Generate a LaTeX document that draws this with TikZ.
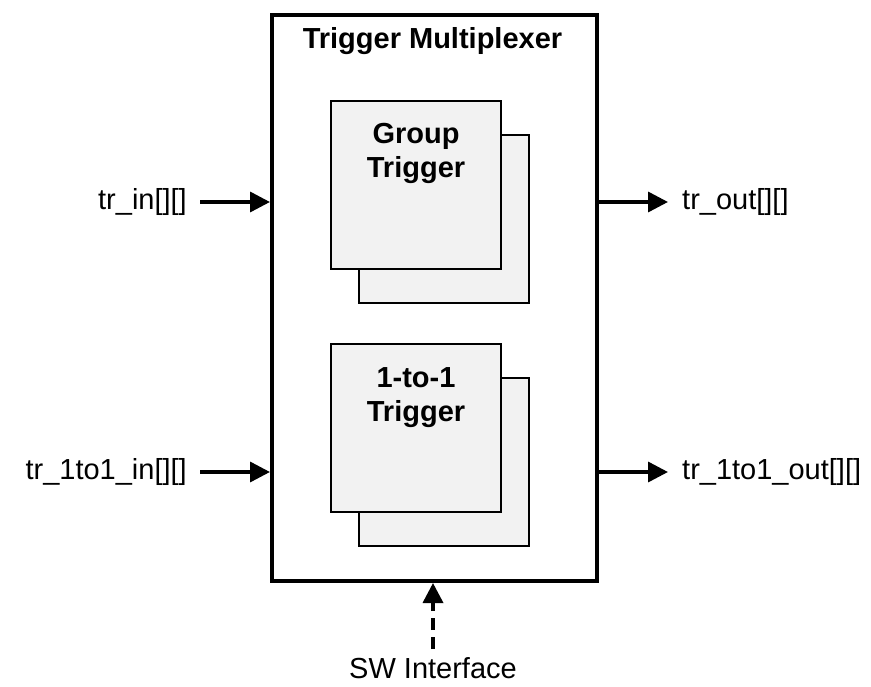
\documentclass[tikz,border=0pt]{standalone}
\usepackage{fontspec}
\setmainfont{Liberation Sans}
\usetikzlibrary{arrows.meta,positioning}
\definecolor{boxgray}{RGB}{242,242,242}

\begin{document}
\begin{tikzpicture}[x=1pt,y=-1pt,
	blk/.style={draw,line width=2pt,fill=boxgray,minimum width=170pt,minimum height=168pt,anchor=north west,inner sep=0pt},
	sig/.style={line width=3.5pt,-{Triangle[length=20pt,width=20pt]}},
	lbl/.style={font=\fontsize{29}{34}\selectfont,inner sep=0pt},
	bld/.style={font=\fontsize{29}{34}\selectfont\bfseries,inner sep=0pt,align=center}]
	\useasboundingbox (0,0) rectangle (871,687);

	% multiplexer frame
	\node[draw,line width=4pt,minimum width=325pt,minimum height=566pt,anchor=north west,inner sep=0pt] (mux) at (270,13) {};
	\node[bld,anchor=base] (muxtitle) at (432.5,49) {Trigger Multiplexer};

	% stacked trigger blocks
	\node[blk] (grpback) at (358,134) {};
	\node[blk] (grp) at (330,100) {};
	\node[bld,anchor=north] (grptxt) at ([yshift=-23pt]grp.north) {Group\\Trigger};
	\node[blk] (oneback) at (358,377) {};
	\node[blk] (one) at (330,343) {};
	\node[bld,anchor=north] (onetxt) at ([yshift=-24pt]one.north) {1-to-1\\Trigger};

	% inputs
	\node[lbl,anchor=east] (trin) at (187,202) {tr\_in[][]};
	\node[lbl,anchor=east] (tronein) at (187,472) {tr\_1to1\_in[][]};
	\draw[sig] ([xshift=13pt]trin.east) -- (trin -| mux.west);
	\draw[sig] ([xshift=13pt]tronein.east) -- (tronein -| mux.west);

	% outputs
	\node[lbl,anchor=west] (trout) at (682,202) {tr\_out[][]};
	\node[lbl,anchor=west] (troneout) at (682,472) {tr\_1to1\_out[][]};
	\draw[sig] (trout -| mux.east) -- ([xshift=-14pt]trout.west);
	\draw[sig] (troneout -| mux.east) -- ([xshift=-14pt]troneout.west);

	% software interface
	\node[lbl] (sw) at (433,668) {SW Interface};
	\draw[sig,dash pattern=on 12pt off 7pt] ([yshift=8pt]sw.north) -- (sw |- mux.south);
\end{tikzpicture}
\end{document}
